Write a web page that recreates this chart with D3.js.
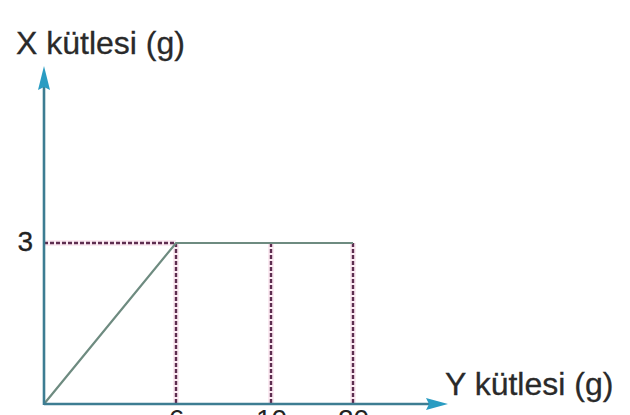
<!DOCTYPE html>
<html>
<head>
<meta charset="utf-8">
<script src="https://cdn.jsdelivr.net/npm/d3@7"></script>
<style>
  html, body { margin: 0; padding: 0; background: #ffffff; }
  svg { display: block; }
  text { font-family: "Liberation Sans", Arial, Helvetica, sans-serif; }
</style>
</head>
<body>
<svg id="chart" width="630" height="415"></svg>
<script>
// ---- data ----
const yMass = [0, 6, 10, 20];          // Y kütlesi (g) – horizontal axis
const xMass = [0, 3, 3, 3];            // X kütlesi (g) – vertical axis
const xTickValues = [6, 10, 20];
const xTickLabels = ["6", "10", "20"];
const yTickValues = [3];
const yTickLabels = ["3"];
const xAxisTitle = "Y kütlesi (g)";
const yAxisTitle = "X kütlesi (g)";

// ---- layout ----
const svg = d3.select("#chart");
const originX = 44, originY = 404;

// the drawing is not to scale: piecewise linear x scale
const x = d3.scaleLinear().domain([0, 6, 10, 20]).range([originX, 176, 271, 353]);
const y = d3.scaleLinear().domain([0, 3]).range([originY, 243]);

const axisColor = "#3d7d92";
const arrowColor = "#2a9cc2";
const dashColor = "#5e2d50";
const haloColor = "#f8d6e6";
const solidColor = "#6e8b80";

// pink halos behind dashed lines
const dashedSegs = [];
dashedSegs.push({x1: x(0), y1: y(3), x2: x(yMass[1]), y2: y(3)});
xTickValues.forEach(v => dashedSegs.push({x1: x(v), y1: y(3), x2: x(v), y2: y(0)}));

svg.append("g").selectAll("line").data(dashedSegs).join("line")
  .attr("x1", d => d.x1).attr("y1", d => d.y1)
  .attr("x2", d => d.x2).attr("y2", d => d.y2)
  .attr("stroke", haloColor).attr("stroke-width", 6).attr("stroke-opacity", 0.5);

svg.append("g").selectAll("line").data(dashedSegs).join("line")
  .attr("x1", d => d.x1).attr("y1", d => d.y1)
  .attr("x2", d => d.x2).attr("y2", d => d.y2)
  .attr("stroke", dashColor).attr("stroke-width", 2.4)
  .attr("stroke-dasharray", "4,2");

// the solid data line
const line = d3.line().x((d, i) => x(yMass[i])).y(d => y(d));
svg.append("path").datum(xMass)
  .attr("d", line)
  .attr("fill", "none")
  .attr("stroke", solidColor)
  .attr("stroke-width", 2.2);

// axes lines
svg.append("line")
  .attr("x1", originX).attr("y1", originY).attr("x2", 432).attr("y2", originY)
  .attr("stroke", axisColor).attr("stroke-width", 2.6);
svg.append("line")
  .attr("x1", originX).attr("y1", originY + 1).attr("x2", originX).attr("y2", 84)
  .attr("stroke", axisColor).attr("stroke-width", 2.6);

// arrowheads
svg.append("path")
  .attr("d", `M448,${originY} L426,${originY - 6} L429,${originY} L426,${originY + 6} Z`)
  .attr("fill", arrowColor);
svg.append("path")
  .attr("d", `M${originX},66 L${originX - 6},90 L${originX},87 L${originX + 6},90 Z`)
  .attr("fill", arrowColor);

// tick labels via d3 axes
const xAxis = d3.axisBottom(x).tickValues(xTickValues)
  .tickFormat((d, i) => xTickLabels[i]).tickSize(0).tickPadding(5);
const gx = svg.append("g").attr("transform", `translate(0,${originY})`).call(xAxis);
gx.select(".domain").remove();
gx.selectAll("text").attr("font-size", 28).attr("fill", "#222")
  .style("font-family", "Liberation Sans, Arial, sans-serif");

const yAxis = d3.axisLeft(y).tickValues(yTickValues)
  .tickFormat((d, i) => yTickLabels[i]).tickSize(0).tickPadding(11);
const gy = svg.append("g").attr("transform", `translate(${originX},0)`).call(yAxis);
gy.select(".domain").remove();
gy.selectAll("text").attr("font-size", 28).attr("fill", "#222").attr("dy", "0.25em")
  .attr("stroke", "#222").attr("stroke-width", 0.3)
  .style("font-family", "Liberation Sans, Arial, sans-serif");

// axis titles
svg.append("text").attr("x", 16).attr("y", 54)
  .attr("font-size", 32).attr("fill", "#2a2a2a")
  .attr("stroke", "#2a2a2a").attr("stroke-width", 0.3)
  .text(yAxisTitle);
svg.append("text").attr("x", 445).attr("y", 395)
  .attr("font-size", 32).attr("fill", "#2a2a2a")
  .attr("stroke", "#2a2a2a").attr("stroke-width", 0.3)
  .text(xAxisTitle);
</script>
</body>
</html>
